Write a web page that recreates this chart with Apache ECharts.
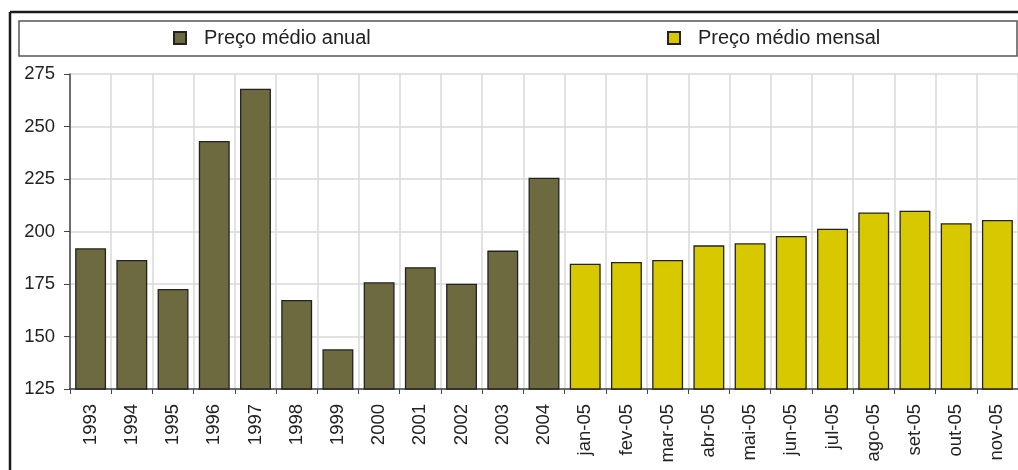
<!DOCTYPE html>
<html>
<head>
<meta charset="utf-8">
<script src="https://cdn.jsdelivr.net/npm/echarts@6/dist/echarts.min.js"></script>
<style>html,body{margin:0;padding:0;background:#fff;}#c{width:1018px;height:470px;}</style>
</head>
<body>
<div id="c"></div>
<script>
const categories = ['1993','1994','1995','1996','1997','1998','1999','2000','2001','2002','2003','2004',
  'jan-05','fev-05','mar-05','abr-05','mai-05','jun-05','jul-05','ago-05','set-05','out-05','nov-05'];
const anualValues = [192, 186.4, 172.6, 243.1, 268, 167.4, 143.9, 175.8, 183, 175.1, 190.9, 225.6];
const mensalValues = [184.7, 185.5, 186.4, 193.4, 194.4, 197.9, 201.3, 209.1, 209.9, 203.9, 205.5];
const yTicks = {min: 125, max: 275, interval: 25};

const anualData = categories.map((c, i) => i < anualValues.length ? anualValues[i] : '-');
const mensalData = categories.map((c, i) => i >= anualValues.length ? mensalValues[i - anualValues.length] : '-');

const chart = echarts.init(document.getElementById('c'), null, {renderer: 'canvas'});
const font = 'Liberation Sans, Arial, sans-serif';
chart.setOption({
  animation: false,
  backgroundColor: '#fff',
  graphic: [
    {type: 'rect', shape: {x: 19, y: 21, width: 998, height: 35}, style: {fill: '#fff', stroke: '#555', lineWidth: 1.5}, z: 0},
    {type: 'line', shape: {x1: 10, y1: 12, x2: 1018, y2: 12}, style: {stroke: '#1a1a1a', lineWidth: 2.5}},
    {type: 'line', shape: {x1: 10, y1: 12, x2: 10, y2: 470}, style: {stroke: '#1a1a1a', lineWidth: 2.5}}
  ],
  legend: [
    {data: ['Preço médio anual'], left: 173, top: 28, padding: 0, itemWidth: 12, itemHeight: 12, itemGap: 10,
     textStyle: {fontFamily: font, fontSize: 20, color: '#222', padding: [0, 0, 0, 13]}, icon: 'rect', z: 5},
    {data: ['Preço médio mensal'], left: 667, top: 28, padding: 0, itemWidth: 12, itemHeight: 12, itemGap: 10,
     textStyle: {fontFamily: font, fontSize: 20, color: '#222', padding: [0, 0, 0, 13]}, icon: 'rect', z: 5}
  ],
  grid: {left: 70, top: 74, bottom: 81, right: 0, containLabel: false},
  xAxis: {
    type: 'category',
    data: categories,
    axisLine: {lineStyle: {color: '#444', width: 1.5}},
    axisTick: {show: true, length: 5, lineStyle: {color: '#444'}, alignWithLabel: false},
    axisLabel: {rotate: 90, fontFamily: font, fontSize: 18.5, color: '#222', margin: 15, interval: 0},
    splitLine: {show: true, lineStyle: {color: '#d9d9d9', width: 1.5}}
  },
  yAxis: {
    type: 'value',
    min: yTicks.min, max: yTicks.max, interval: yTicks.interval,
    axisLine: {show: true, lineStyle: {color: '#444', width: 1.5}},
    axisTick: {show: true, length: 6, lineStyle: {color: '#444'}},
    axisLabel: {fontFamily: font, fontSize: 18.5, color: '#222', margin: 15},
    splitLine: {show: true, lineStyle: {color: '#d9d9d9', width: 1.5}}
  },
  series: [
    {name: 'Preço médio anual', type: 'bar', stack: 's', data: anualData, barCategoryGap: '25%',
     itemStyle: {color: '#6d6a40', borderColor: '#222', borderWidth: 1.3}},
    {name: 'Preço médio mensal', type: 'bar', stack: 's', data: mensalData, barCategoryGap: '25%',
     itemStyle: {color: '#d7c800', borderColor: '#222', borderWidth: 1.3}}
  ]
});
</script>
</body>
</html>
